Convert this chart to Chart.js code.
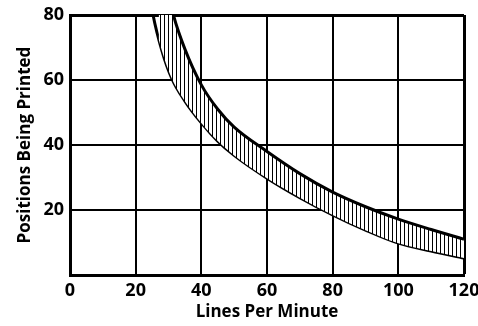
<!DOCTYPE html>
<html>
<head>
<meta charset="utf-8">
<script src="https://cdn.jsdelivr.net/npm/chart.js@4.4.1/dist/chart.umd.min.js"></script>
<style>
  html, body { margin: 0; padding: 0; background: #fff; }
  #wrap { width: 478px; height: 326px; }
</style>
</head>
<body>
<div id="wrap"><canvas id="chart" width="478" height="326"></canvas></div>
<script>
// upper and lower edge of the band (lines per minute, positions)
const upperX = [27, 31.5, 35, 40, 45, 50, 60, 70, 80, 90, 100, 110, 120];
const upperY = [100, 80, 69.5, 58.5, 51, 45.5, 38, 31.2, 25.5, 21, 17.2, 14, 11];
const lowerX = [23, 25.3, 28, 31, 35, 40, 45, 50, 60, 70, 80, 90, 100, 110, 120];
const lowerY = [95, 80, 69, 60.5, 53.5, 46.8, 41.2, 36.8, 29.8, 23.8, 18.5, 13.8, 9.8, 7.4, 5.2];
const xTicks = [0, 20, 40, 60, 80, 100, 120];
const yTicks = [0, 20, 40, 60, 80];

function toPoints(xs, ys) {
    return xs.map((x, i) => ({ x: x, y: ys[i] }));
}

// vertical hatching for the band
function hatch() {
    const c = document.createElement("canvas");
    c.width = 4;
    c.height = 4;
    const g = c.getContext("2d");
    g.fillStyle = "#fff";
    g.fillRect(0, 0, 4, 4);
    g.fillStyle = "#000";
    g.fillRect(0, 0, 1, 4);
    return g.createPattern(c, "repeat");
}

const ctx = document.getElementById("chart").getContext("2d");
const tickFont = { family: "Open Sans", size: 18, weight: "bold" };
const titleFont = { family: "Open Sans", size: 17, weight: "bold" };

// frame edges a bit heavier than inner grid
function gridWidth(c) {
    return (c.tick && c.tick.value === c.scale.max) ? 3 : 2;
}

new Chart(ctx, {
    type: "line",
    data: {
        datasets: [
            {
                data: toPoints(upperX, upperY),
                borderColor: "#000",
                borderWidth: 3,
                pointRadius: 0,
                cubicInterpolationMode: "monotone",
                fill: "+1",
                backgroundColor: hatch(),
                clip: 0
            },
            {
                data: toPoints(lowerX, lowerY),
                borderColor: "#000",
                borderWidth: 3,
                pointRadius: 0,
                cubicInterpolationMode: "monotone",
                fill: false,
                clip: 0
            }
        ]
    },
    options: {
        responsive: false,
        animation: false,
        layout: { padding: { top: 15, right: 14, left: 0, bottom: 0 } },
        plugins: { legend: { display: false }, tooltip: { enabled: false } },
        scales: {
            x: {
                type: "linear",
                min: 0,
                max: 120,
                afterBuildTicks: s => { s.ticks = xTicks.map(v => ({ value: v })); },
                afterFit: s => { s.height = 51; s.paddingLeft = 0; s.paddingRight = 0; },
                ticks: { color: "#000", font: tickFont, padding: 5, maxRotation: 0 },
                grid: { color: "#000", lineWidth: gridWidth, drawTicks: false },
                border: { color: "#000", width: 3 },
                title: { display: true, text: "Lines Per Minute", color: "#000", font: titleFont, padding: { top: 0, bottom: 4 } }
            },
            y: {
                min: 0,
                max: 80,
                afterBuildTicks: s => { s.ticks = yTicks.map(v => ({ value: v })); },
                afterFit: s => { s.width = 70; s.paddingTop = 0; s.paddingBottom = 0; },
                ticks: { color: "#000", font: tickFont, padding: 6, callback: v => v === 0 ? "" : v },
                grid: { color: "#000", lineWidth: gridWidth, drawTicks: false },
                border: { color: "#000", width: 3 },
                title: { display: true, text: "Positions Being Printed", color: "#000", font: titleFont, padding: { top: 15, bottom: 0 } }
            }
        }
    }
});
</script>
</body>
</html>
